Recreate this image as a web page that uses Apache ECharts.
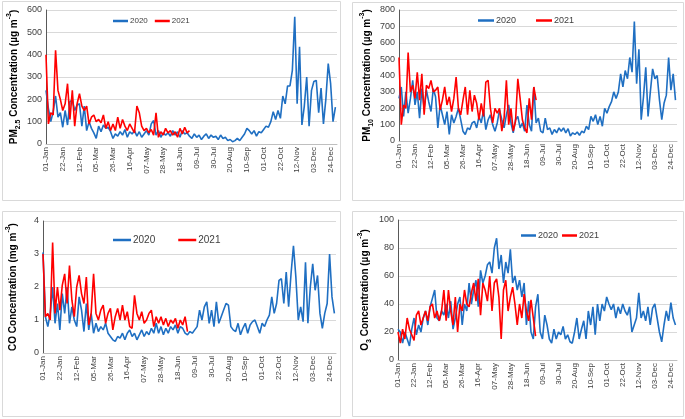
<!DOCTYPE html>
<html>
<head>
<meta charset="utf-8">
<script src="https://cdn.jsdelivr.net/npm/echarts@6/dist/echarts.min.js"></script>
<style>
html, body { margin: 0; padding: 0; background: #fff; }
#main { width: 685px; height: 419px; }
</style>
</head>
<body>
<div id="main"></div>
<script>
// x axis tick labels, one every 21 days
var tickLabels = ['01-Jan', '22-Jan', '12-Feb', '05-Mar', '26-Mar', '16-Apr', '07-May', '28-May', '18-Jun',
  '09-Jul', '30-Jul', '20-Aug', '10-Sep', '01-Oct', '22-Oct', '12-Nov', '03-Dec', '24-Dec'];
var seriesNames = ['2020', '2021'];
var step = 3; // one reading every 3 days

var pm25_2020 = [
  240, 160, 100, 145, 215, 120, 140, 75, 150, 85, 190,
  195, 150, 175, 180, 80, 170, 60, 100, 70,
  50, 25, 80, 55, 85, 70, 75, 55, 25, 45, 35,
  55, 40, 65, 30, 55, 45, 60, 35, 55, 30,
  45, 60, 40, 90, 105, 40, 60, 30, 50, 40,
  50, 35, 60, 40, 55, 30, 60, 45, 50, 35,
  25, 45, 30, 40, 20, 35, 45, 25, 40, 30,
  35, 20, 40, 25, 30, 15, 20, 10, 15, 25, 15,
  30, 45, 70, 60, 45, 60, 35, 55, 50, 65,
  80, 75, 100, 145, 110, 150, 115, 215, 180, 260,
  260, 330, 570, 180, 435, 85, 170, 300, 80, 240,
  280, 285, 140, 250, 90, 200, 360, 270, 100, 165
];
var pm25_2021 = [
  400, 90, 140, 130, 420, 240, 200, 150, 180, 270,
  110, 240, 80, 180, 225, 170, 150, 170, 90, 120,
  130, 100, 110, 95, 130, 70, 100, 60, 90, 60,
  120, 70, 110, 80, 60, 90, 70, 50, 170, 140,
  80, 60, 70, 50, 65, 40, 140, 30, 55, 40,
  70, 50, 60, 40, 55, 30, 70, 45, 75, 50, 60
];

var pm10_2020 = [
  260, 330, 150, 300, 170, 260, 370, 220, 300, 140, 320,
  200, 310, 240, 180, 320, 270, 80, 220, 160,
  100, 180, 40, 160, 110, 150, 200, 130, 60, 40, 80,
  70, 110, 120, 80, 150, 110, 190, 70, 130, 160,
  100, 60, 110, 190, 130, 80, 160, 220, 110, 50,
  130, 150, 80, 110, 60, 220, 100, 60, 330, 110,
  140, 60, 50, 140, 70, 80, 40, 70, 50, 80,
  60, 80, 50, 75, 30, 50, 40, 55, 35, 60, 50,
  90, 70, 150, 120, 160, 100, 150, 90, 200, 170,
  210, 240, 300, 260, 300, 410, 330, 430, 380, 510,
  420, 730, 350, 560, 130, 270, 450, 150, 300, 440,
  380, 400, 250, 130, 230, 280, 510, 310, 410, 250
];
var pm10_2021 = [
  510, 100, 220, 200, 540, 300, 340, 260, 420, 250,
  410, 160, 340, 320, 370, 300, 310, 330, 190, 250,
  330, 220, 270, 180, 260, 390, 200, 160, 250, 330,
  160, 310, 180, 280, 230, 130, 230, 150, 360, 370,
  200, 110, 200, 170, 200, 60, 140, 370, 100, 200,
  60, 120, 380, 260, 130, 80, 50, 260, 130, 330, 250
];

var co_2020 = [
  3.05, 1.1, 0.8, 1.2, 2.0, 0.9, 1.5, 0.7, 1.8, 1.2, 2.0,
  0.9, 1.4, 1.0, 0.8, 1.7, 1.3, 0.65, 1.5, 0.7,
  1.2, 0.6, 0.9, 0.65, 0.8, 0.7, 0.9, 0.6, 0.5, 0.4, 0.35,
  0.5, 0.45, 0.6, 0.4, 0.6, 0.7, 0.5, 0.6, 0.4, 0.55,
  0.7, 0.5, 0.65, 0.55, 0.75, 0.6, 0.9, 0.6, 0.8, 0.55,
  0.75, 0.6, 0.8, 0.7, 0.85, 0.6, 0.8, 0.75, 0.6, 0.55,
  0.65, 0.6, 0.7, 0.8, 1.3, 1.0, 1.4, 1.55, 0.9, 1.3,
  0.8, 1.55, 0.9, 1.1, 1.3, 1.5, 1.45, 0.8, 0.7, 0.65, 0.9,
  0.55, 0.75, 0.9, 0.6, 0.85, 0.95, 1.0, 0.8, 0.6, 0.9,
  0.8, 1.0, 1.15, 1.7, 1.2, 1.5, 2.2, 2.25, 1.5, 2.45,
  1.4, 2.4, 3.25, 2.3, 1.0, 1.4, 0.95, 2.75, 0.9, 2.0,
  2.7, 1.9, 2.35, 1.2, 0.75, 1.2, 1.5, 3.0, 1.7, 1.2
];
var co_2021 = [
  3.0, 1.1, 1.2, 1.0, 3.35, 1.2, 2.0, 1.3, 2.05, 2.4,
  1.5, 2.65, 1.6, 1.1, 2.0, 2.35, 1.8, 1.5, 2.3, 0.85,
  1.2, 2.4, 1.2, 1.0, 1.3, 1.45, 0.9, 1.2, 1.35, 0.7,
  1.1, 1.35, 1.0, 1.45, 1.0, 1.25, 0.8, 0.75, 1.75, 1.2,
  1.0, 1.25, 0.9, 1.0, 1.2, 1.3, 0.8, 1.1, 0.9, 1.1,
  0.85, 1.05, 0.8, 1.0, 0.9, 1.05, 0.75, 1.0, 0.85, 1.1, 0.65
];

var o3_2020 = [
  22, 20, 12, 20, 15, 10, 22, 30, 18, 25, 20,
  30, 35, 25, 38, 44, 50, 30, 28, 35,
  32, 40, 30, 42, 22, 30, 40, 45, 25, 40, 35,
  55, 40, 50, 57, 38, 64, 55, 60, 68, 70,
  62, 80, 87, 65, 75, 55, 70, 62, 79, 55,
  60, 50, 57, 45, 55, 25, 42, 20, 15, 38,
  47, 20, 15, 32, 25, 15, 12, 22, 15, 20,
  18, 24, 15, 18, 13, 12, 20, 30, 15, 22, 28,
  15, 35, 25, 38, 18, 40, 28, 40, 35, 45,
  40, 36, 40, 30, 38, 33, 40, 35, 32, 38,
  20, 25, 30, 48, 30, 35, 28, 38, 25, 37,
  40, 30, 20, 13, 25, 35, 28, 41, 30, 25
];
var o3_2021 = [
  20, 12, 22, 15, 30, 22, 18, 14, 32, 35,
  25, 30, 35, 28, 38, 40, 30, 35, 28, 35,
  50, 28, 50, 35, 25, 45, 20, 40, 35, 50,
  40, 38, 48, 55, 42, 58, 32, 55, 50, 42,
  60, 35, 55, 58, 45, 15, 50, 57, 35, 45,
  52, 40, 25, 40, 30, 47, 35, 28, 43, 30, 17
];

var blue = '#1f6fc2';
var red = '#ff0000';
var textColor = '#404040';

var panels = [
  { title: '{b|PM}{sub|2.5}{b| Concentration (µg m}{sup|-3}{b|)}', max: 600, interval: 100,
    data: [pm25_2020, pm25_2021],
    grid: { left: 46, top: 10, width: 291, height: 134 }, nameGap: 24,
    box: [2, 1, 338, 199], legend: { left: 113, top: 17, itemGap: 7, font: 8, w: 15 } },
  { title: '{b|PM}{sub|10}{b| Concentration (µg m}{sup|-3}{b|)}', max: 800, interval: 100,
    data: [pm10_2020, pm10_2021],
    grid: { left: 399, top: 10, width: 278, height: 131 }, nameGap: 24,
    box: [352, 2, 331, 198], legend: { left: 478, top: 16, itemGap: 20, font: 9, w: 16 } },
  { title: '{b|CO Concentration (mg m}{sup|-3}{b|)}', max: 4, interval: 1,
    data: [co_2020, co_2021],
    grid: { left: 43, top: 221, width: 293, height: 132 }, nameGap: 22,
    box: [2, 211, 338, 205], legend: { left: 113, top: 235, itemGap: 23, font: 10, w: 18 } },
  { title: '{b|O}{sub|3}{b| Concentration (µg m}{sup|-3}{b|)}', max: 100, interval: 20,
    data: [o3_2020, o3_2021],
    grid: { left: 398, top: 220, width: 279, height: 140 }, nameGap: 25,
    box: [352, 211, 331, 205], legend: { left: 521, top: 231, itemGap: 4, font: 9, w: 15 } }
];

function toPoints(values) {
  return values.map(function (v, i) { return [i * step, v]; });
}

var grids = [], xAxes = [], yAxes = [], series = [], legends = [], boxes = [];
panels.forEach(function (p, k) {
  grids.push(Object.assign({ outerBoundsMode: 'none', containLabel: false }, p.grid));
  xAxes.push({
    type: 'value', gridIndex: k, min: 0, max: 365, interval: 21,
    axisLine: { show: true, lineStyle: { color: '#bfbfbf', width: 1 } },
    axisTick: { show: false },
    splitLine: { show: false },
    axisLabel: {
      rotate: 90, margin: 3, fontSize: 8, color: textColor, fontFamily: 'Liberation Sans',
      showMaxLabel: false,
      formatter: function (v) {
        var n = v / 21;
        return (n % 1 === 0 && tickLabels[n]) ? tickLabels[n] : '';
      }
    }
  });
  yAxes.push({
    type: 'value', gridIndex: k, min: 0, max: p.max, interval: p.interval,
    name: p.title, nameLocation: 'middle', nameRotate: 90, nameGap: p.nameGap,
    nameTextStyle: {
      color: '#000', fontFamily: 'Liberation Sans',
      rich: {
        b: { fontSize: 10, fontWeight: 'bold', color: '#000', lineHeight: 16, fontFamily: 'Liberation Sans' },
        sub: { fontSize: 7, fontWeight: 'bold', color: '#000', lineHeight: 9, verticalAlign: 'bottom', fontFamily: 'Liberation Sans' },
        sup: { fontSize: 7, fontWeight: 'bold', color: '#000', lineHeight: 9, verticalAlign: 'top', fontFamily: 'Liberation Sans' }
      }
    },
    axisLine: { show: true, lineStyle: { color: '#595959', width: 1 } },
    axisTick: { show: false },
    splitLine: { show: true, lineStyle: { color: '#d9d9d9', width: 1 } },
    axisLabel: { fontSize: 9, margin: 4, color: textColor, fontFamily: 'Liberation Sans' }
  });
  [0, 1].forEach(function (j) {
    series.push({
      name: seriesNames[j], type: 'line', xAxisIndex: k, yAxisIndex: k,
      data: toPoints(p.data[j]),
      showSymbol: false, symbol: 'none',
      lineStyle: { color: j ? red : blue, width: 1.6 },
      itemStyle: { color: j ? red : blue },
      z: 2 + j
    });
  });
  legends.push({
    data: seriesNames, left: p.legend.left, top: p.legend.top, itemGap: p.legend.itemGap,
    padding: 0, icon: 'rect', itemWidth: p.legend.w, itemHeight: 2.5,
    textStyle: { fontSize: p.legend.font, color: textColor, fontFamily: 'Liberation Sans', padding: [0, 0, 0, -3] }
  });
  boxes.push({
    type: 'rect', silent: true, z: -1,
    shape: { x: p.box[0] + 0.5, y: p.box[1] + 0.5, width: p.box[2], height: p.box[3] },
    style: { fill: 'none', stroke: '#d9d9d9', lineWidth: 1 }
  });
});

var chartDom = document.getElementById('main');
var myChart = echarts.init(chartDom);
var option = {
  animation: false,
  backgroundColor: '#fff',
  textStyle: { fontFamily: 'Liberation Sans' },
  grid: grids,
  xAxis: xAxes,
  yAxis: yAxes,
  legend: legends,
  series: series,
  graphic: boxes
};
option && myChart.setOption(option);
</script>
</body>
</html>
